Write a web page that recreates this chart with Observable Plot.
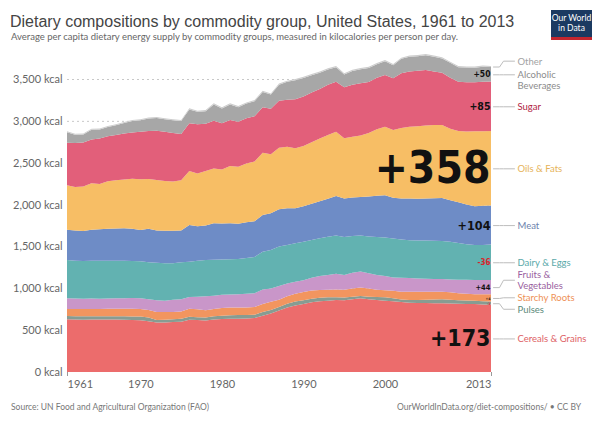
<!DOCTYPE html>
<html><head><meta charset="utf-8">
<script src="https://cdn.jsdelivr.net/npm/d3@7"></script>
<script src="https://cdn.jsdelivr.net/npm/@observablehq/plot@0.6"></script>
<style>
body{margin:0;background:#fff;}
#wrap{position:relative;width:600px;height:424px;overflow:hidden;font-family:Lato,sans-serif;}
.title{position:absolute;left:10px;top:12.5px;font:16px/18px "Liberation Sans",Arial,sans-serif;color:#444;white-space:nowrap;}
.sub{position:absolute;left:11px;top:31px;font:9.5px/11.4px Lato,sans-serif;color:#666;white-space:nowrap;}
.logo{position:absolute;left:551px;top:10px;width:41px;height:30px;box-sizing:border-box;background:#1b3a61;border-bottom:3px solid #c3262e;color:#fff;font:8.5px/10px Lato,sans-serif;text-align:center;padding-top:3px;}
#chart{position:absolute;left:0;top:44px;}
.src{position:absolute;left:11px;top:402px;font:8.5px/10px Lato,sans-serif;color:#777;white-space:nowrap;}
.url{position:absolute;right:19px;top:402px;font:8.5px/10px Lato,sans-serif;color:#777;white-space:nowrap;}
</style></head>
<body>
<div id="wrap">
  <div class="title">Dietary compositions by commodity group, United States, 1961 to 2013</div>
  <div class="sub">Average per capita dietary energy supply by commodity groups, measured in kilocalories per person per day.</div>
  <div class="logo">Our World<br>in Data</div>
  <div id="chart"></div>
  <div class="src">Source: UN Food and Agricultural Organization (FAO)</div>
  <div class="url">OurWorldInData.org/diet-compositions/ • CC BY</div>
</div>
<script>
const years = [1961,1962,1963,1964,1965,1966,1967,1968,1969,1970,
  1971,1972,1973,1974,1975,1976,1977,1978,1979,1980,
  1981,1982,1983,1984,1985,1986,1987,1988,1989,1990,
  1991,1992,1993,1994,1995,1996,1997,1998,1999,2000,
  2001,2002,2003,2004,2005,2006,2007,2008,2009,2010,
  2011,2012,2013];

const cereals = [629,627,625,626,626,627,626,625,622,618,
  605,590,592,597,600,625,620,615,628,632,
  636,637,640,645,672,700,735,770,795,812,
  832,845,852,860,858,868,880,870,860,852,
  845,835,828,825,823,822,820,818,815,813,
  812,806,802];
const pulses = [40,40,40,40,40,39,40,40,42,44,
  45,32,33,32,35,35,35,37,37,40,
  42,43,41,40,45,42,42,45,48,45,
  42,42,40,32,32,32,28,30,35,40,
  35,31,32,35,39,43,48,44,43,42,
  40,40,39];
const starchyRoots = [83,85,87,88,88,89,90,91,91,90,
  90,94,91,89,87,95,95,86,89,94,
  92,90,90,91,95,96,85,90,92,98,
  101,93,91,94,94,98,102,98,89,86,
  90,94,98,98,96,93,90,90,84,81,
  78,82,87];
const fruitsVeg = [128,126,124,124,122,123,124,126,129,128,
  128,140,134,146,146,141,148,166,158,156,
  156,160,163,166,173,160,166,153,143,141,
  151,166,175,189,176,188,192,182,176,168,
  160,166,164,160,157,154,152,154,161,165,
  169,171,172];
const dairyEggs = [458,452,450,450,454,452,450,446,442,442,
  444,449,450,434,442,422,430,434,428,422,
  420,420,428,433,452,459,472,460,460,459,
  452,452,458,457,452,439,428,440,452,460,
  464,458,452,454,455,456,456,449,437,426,
  419,419,422];
const meat = [362,360,358,372,374,382,384,388,386,374,
  400,385,388,390,380,438,412,412,436,431,
  430,422,428,425,438,438,445,437,417,425,
  432,442,454,470,462,460,460,475,493,506,
  486,490,498,498,502,507,512,497,488,475,
  462,467,466];
const oilsFats = [532,520,531,554,542,568,578,584,597,605,
  593,605,594,589,600,645,632,650,656,645,
  684,680,700,715,745,705,735,736,717,720,
  735,750,760,768,717,725,735,760,795,818,
  810,841,858,865,873,875,872,853,852,870,
  895,892,890];
const sugar = [507,525,525,524,544,535,538,548,553,569,
  575,587,588,578,553,569,586,565,570,550,
  550,538,540,540,542,545,560,561,585,590,
  595,590,600,598,609,620,625,610,615,618,
  618,655,660,665,662,640,625,610,588,590,
  585,591,592];
const alcohol = [124,98,98,115,108,111,118,125,136,136,
  148,151,150,153,155,166,150,151,194,178,
  186,173,176,180,184,169,191,214,229,223,
  206,196,183,173,154,166,166,166,161,165,
  157,171,176,173,178,176,170,178,173,174,
  174,178,172];
const other = [12,12,12,12,12,12,12,12,12,12,
  12,12,12,12,12,14,14,14,14,14,
  14,14,14,14,14,14,14,14,14,14,
  14,14,14,14,14,14,14,14,14,14,
  14,14,14,14,14,14,14,14,14,14,
  14,14,14];

const seriesNames = ["Cereals & Grains","Pulses","Starchy Roots","Fruits & Vegetables","Dairy & Eggs","Meat","Oils & Fats","Sugar","Alcoholic Beverages","Other"];
const labelTexts = ["Cereals & Grains","Pulses","Starchy Roots","Fruits &\nVegetables","Dairy & Eggs","Meat","Oils & Fats","Sugar","Alcoholic\nBeverages","Other"];
const seriesValues = [cereals,pulses,starchyRoots,fruitsVeg,dairyEggs,meat,oilsFats,sugar,alcohol,other];
const yTicks = [0,500,1000,1500,2000,2500,3000,3500];
const xTicksMid = [1970,1980,1990,2000];

// styles / layout
const areaColors = ["#ec6c6c","#879c92","#f2955f","#c996c9","#62b2b1","#6e8cc6","#f7be65","#e25f7a","#a7a7a7","#cdcdcd"];
const labelColors = ["#de6266","#5c8a7a","#ee9156","#9a5fa0","#5aa9a9","#6d83ad","#e6b35a","#b0223f","#8c8c8c","#a3a3a3"];
const labelNudge = [0,-66,8,88,0,0,0,0,-66,70];   // kcal offsets of name labels
const connNudge  = [0,-66,8,88,0,0,0,0,0,70];
const W=600,H=355,ML=67,MR=109,MT=35,MB=27;
const pxPerYear = (W-ML-MR)/(2013-1961);
const last = years.length-1;

const long = [];
seriesValues.forEach((vals,k)=>vals.forEach((v,i)=>long.push({year:years[i],series:seriesNames[k],value:v})));

// cumulative at 2013
let acc=0; const lo=[],hi=[];
seriesValues.forEach((vals,k)=>{lo[k]=acc; acc+=vals[last]; hi[k]=acc;});
const mid = k => (lo[k]+hi[k])/2;

// name labels and connectors
const names = seriesNames.map((s,k)=>({t:labelTexts[k], x:2013, y:mid(k)+labelNudge[k], c:labelColors[k]}));
const conn = [];
seriesNames.forEach((s,k)=>{
  const y0=mid(k), y1=mid(k)+connNudge[k];
  [[2,y0],[8,y0],[12,y1],[23,y1]].forEach(([px,y])=>conn.push({k, x:2013+px/pxPerYear, y}));
});

// change labels 1961 -> 2013
const groups = [[0],[1],[2],[3],[4],[5],[6],[7],[8,9]];
const chgSizes = [23,3.6,3.6,7.5,8,12.5,44,10.5,8.5];
const chg = groups.map((g,j)=>{
  const d = d3.sum(g,k=>seriesValues[k][last]) - d3.sum(g,k=>seriesValues[k][0]);
  const yy = (lo[g[0]]+hi[g[g.length-1]])/2;
  return {t:(d>=0?"+":"")+d, x:2013, y:yy, fs:chgSizes[j], c: d<0?"#d9262c":"#111"};
});

const chart = Plot.plot({
  width:W,height:H,marginLeft:ML,marginRight:MR,marginTop:MT,marginBottom:MB,
  style:{fontFamily:"Lato, sans-serif",fontSize:"11px",color:"#666",background:"transparent",overflow:"visible"},
  x:{domain:[1961,2013]},
  y:{domain:[0,3500]},
  color:{domain:seriesNames,range:areaColors},
  marks:[
    Plot.gridY(yTicks.slice(1),{stroke:"#c8c8c8",strokeOpacity:1,strokeDasharray:"2,3"}),
    Plot.areaY(long,{x:"year",y:"value",z:"series",fill:"series",order:seriesNames}),
    Plot.axisY(yTicks,{tickSize:0,tickPadding:5,tickFormat:d=>d3.format(",")(d)+" kcal",fill:"#666",fontSize:11}),
    Plot.axisX(xTicksMid,{tickSize:0,tickPadding:8,tickFormat:d=>String(d),fill:"#666",fontSize:11}),
    Plot.axisX([1961],{tickSize:4,tickPadding:4,textAnchor:"start",tickFormat:d=>String(d),fill:"#666",fontSize:11,stroke:"#999"}),
    Plot.axisX([2013],{tickSize:4,tickPadding:4,textAnchor:"end",tickFormat:d=>String(d),fill:"#666",fontSize:11,stroke:"#999"}),
    Plot.line(conn,{x:"x",y:"y",z:"k",stroke:"#bdbdbd",strokeWidth:1}),
    Plot.text(names,{x:"x",y:"y",text:"t",fill:"c",textAnchor:"start",dx:26,fontSize:9.5,lineHeight:1.1,fontFamily:"Lato, sans-serif"}),
    Plot.text(chg,{x:"x",y:"y",text:"t",fill:"c",fontSize:d=>d.fs,textAnchor:"end",dx:-1,fontFamily:"DejaVu Sans Condensed, DejaVu Sans, sans-serif",fontWeight:"bold",ariaLabel:"chg"})
  ]
});
d3.select(chart).selectAll('g[aria-label="chg"] text').each(function(){
  const t=this.getAttribute("transform")||"";
  this.setAttribute("transform", t+" scale(0.93,1.25)");
});
document.getElementById("chart").appendChild(chart);
</script>
</body></html>
